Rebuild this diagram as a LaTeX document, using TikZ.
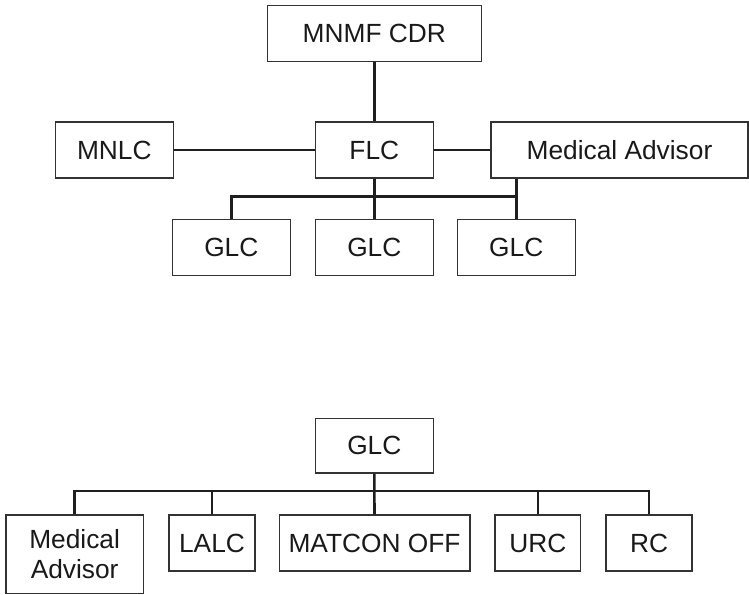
\documentclass[tikz,border=0pt]{standalone}
\usepackage{fontspec}
\setmainfont{Liberation Sans}
\begin{document}
\begin{tikzpicture}[x=1pt,y=-1pt,
  box/.style={draw=black!80, line width=1.3pt, inner sep=0pt, align=center,
    font=\fontsize{26.3}{30}\selectfont, text=black!90},
  conn/.style={draw=black!88, line width=2.6pt}]
\useasboundingbox (0,0) rectangle (749,594);
% top tree
\node[box, minimum width=214pt, minimum height=55.6pt] (cdr) at (374.3,33.5) {MNMF CDR};
\node[box, minimum width=118pt, minimum height=56pt] (mnlc) at (114.3,150) {MNLC};
\node[box, minimum width=118pt, minimum height=56pt] (flc) at (374.3,150) {FLC};
\node[box, minimum width=257pt, minimum height=56pt] (ma) at (619.5,150) {Medical Advisor};
\node[box, minimum width=118pt, minimum height=56pt] (g1) at (231.3,247.3) {GLC};
\node[box, minimum width=118pt, minimum height=56pt] (g2) at (374.3,247.3) {GLC};
\node[box, minimum width=118pt, minimum height=56pt] (g3) at (516.2,247.3) {GLC};
\coordinate (bus) at (0,196.7);
\draw[conn] (cdr.south) -- (flc.north);
\draw[conn] (mnlc.east) -- (flc.west);
\draw[conn] (flc.east) -- (ma.west);
\draw[conn] (flc.south) -- (g2.north);
\draw[conn] (g1.north) -- (g1.north |- bus) -- (g3.north |- bus);
\draw[conn] (g3.north) -- (g3.north |- ma.south);
% bottom tree
\node[box, minimum width=118pt, minimum height=54.7pt] (bg) at (374.3,445.7) {GLC};
\node[box, minimum width=137.3pt, minimum height=78.3pt] (bma) at (74.6,554.2) {Medical\\Advisor};
\node[box, minimum width=86pt, minimum height=56pt] (lalc) at (212,543) {LALC};
\node[box, minimum width=190.7pt, minimum height=56pt] (matcon) at (374.5,543) {MATCON OFF};
\node[box, minimum width=85.7pt, minimum height=56pt] (urc) at (537.8,543) {URC};
\node[box, minimum width=86pt, minimum height=56pt] (rc) at (649,543) {RC};
\coordinate (bbus) at (0,491);
\draw[conn] (bg.south) -- (matcon.north);
\draw[conn] (bma.north) -- (bma.north |- bbus) -- (rc.north |- bbus) -- (rc.north);
\draw[conn] (lalc.north) -- (lalc.north |- bbus);
\draw[conn] (urc.north) -- (urc.north |- bbus);
\end{tikzpicture}
\end{document}
